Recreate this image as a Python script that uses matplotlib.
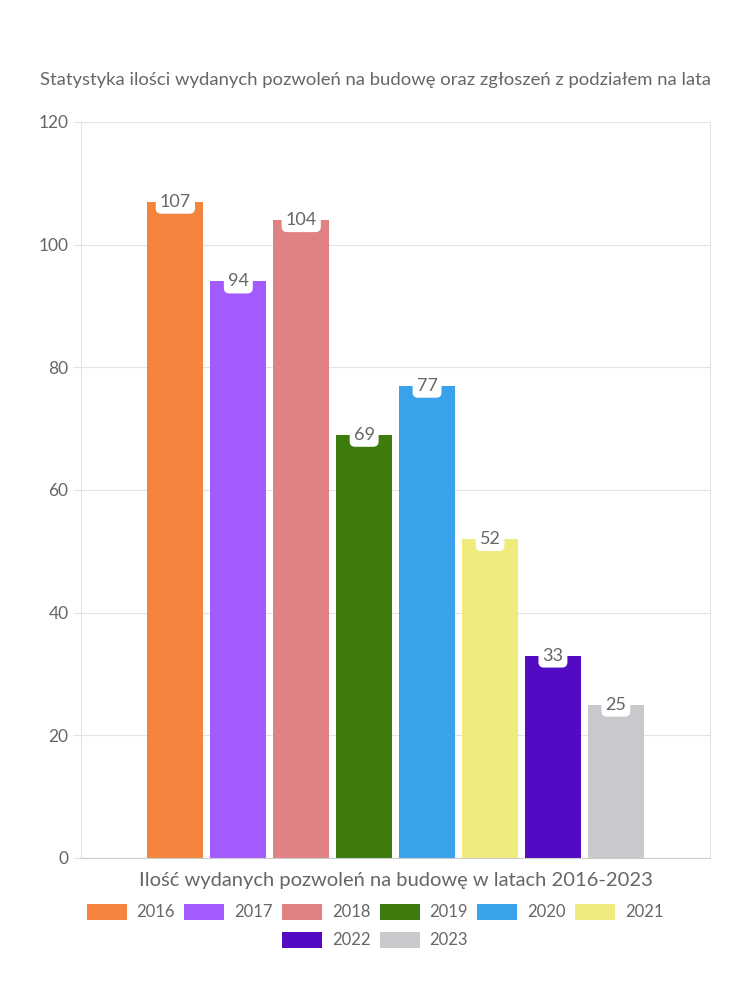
import matplotlib.pyplot as plt
from matplotlib.patches import Patch

years = ['2016', '2017', '2018', '2019', '2020', '2021', '2022', '2023']
permits = [107, 94, 104, 69, 77, 52, 33, 25]
colors = ['#F5843F', '#A35BFF', '#E08283', '#3E7B0D', '#38A3EB', '#F0EB7D', '#520BC2', '#C9C9CD']

title = 'Statystyka ilości wydanych pozwoleń na budowę oraz zgłoszeń z podziałem na lata'
xlabel = 'Ilość wydanych pozwoleń na budowę w latach 2016-2023'

plt.rcParams['font.family'] = ['Lato', 'DejaVu Sans']
text_color = '#666666'
grid_color = '#E3E3E3'

fig = plt.figure(figsize=(7.5, 10), dpi=100)
ax = fig.add_axes([0.108, 0.142, 0.839, 0.736])

x = list(range(len(years)))
ax.bar(x, permits, width=0.89, color=colors, zorder=2)

# value labels sitting on top of each bar in a white rounded box
for xi, v in zip(x, permits):
    ax.text(xi, v, str(v), ha='center', va='center', fontsize=13,
            color=text_color, zorder=3,
            bbox=dict(boxstyle='round,pad=0.22,rounding_size=0.3',
                      facecolor='white', edgecolor='none'))

ax.set_xlim(-1.5, 8.5)
ax.set_ylim(0, 120)
ax.set_yticks(range(0, 121, 20))
ax.set_xticks([])
ax.yaxis.grid(True, color=grid_color, linewidth=0.8, zorder=0)
ax.tick_params(axis='y', colors=grid_color, labelcolor=text_color,
               labelsize=12.5, length=6, width=0.8, pad=3)
for side in ['left', 'right', 'top']:
    ax.spines[side].set_color(grid_color)
ax.spines['top'].set_visible(False)
ax.spines['bottom'].set_color('#CCCCCC')

fig.text(0.5, 0.92, title, ha='center', va='center', fontsize=13.3, color=text_color)
ax.set_xlabel(xlabel, fontsize=14.5, color=text_color, labelpad=10)

# legend in two centred rows: 6 years, then 2
handles = [Patch(facecolor=c, edgecolor='none') for c in colors]
leg_kw = dict(loc='center', frameon=False, fontsize=12, handlelength=2.4,
              handleheight=1.1, handletextpad=0.6, columnspacing=0.55,
              labelcolor=text_color)
fig.legend(handles[:6], years[:6], bbox_to_anchor=(0.5, 0.088), ncol=6, **leg_kw)
fig.legend(handles[6:], years[6:], bbox_to_anchor=(0.5, 0.06), ncol=2, **leg_kw)

fig.savefig('out.png', dpi=100, facecolor='white')
